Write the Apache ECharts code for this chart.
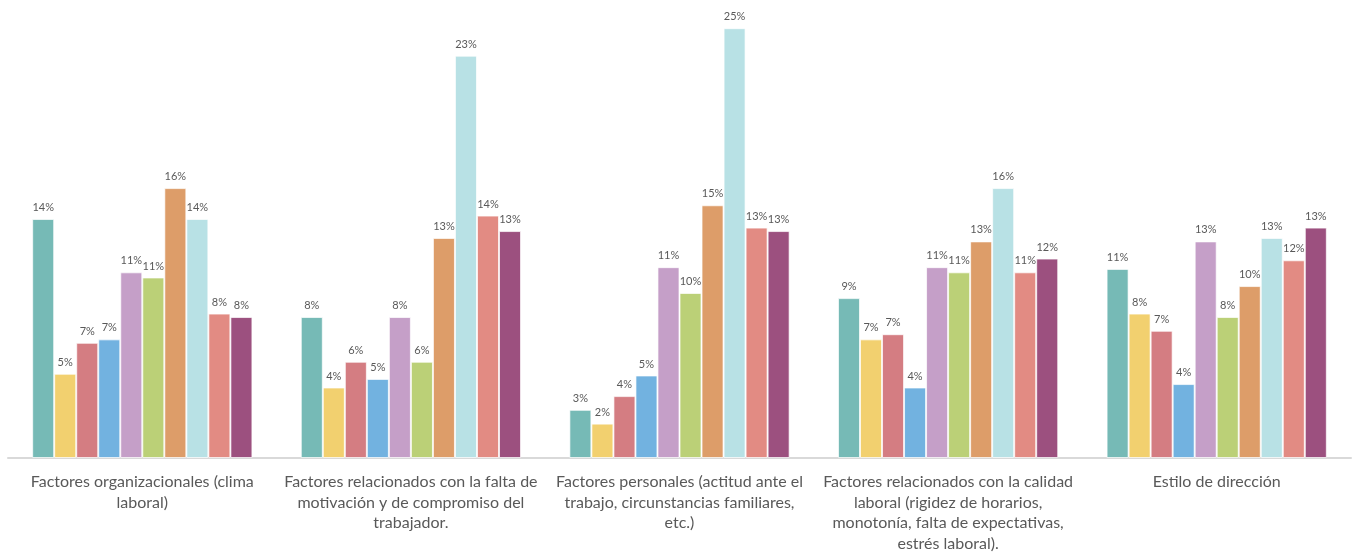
<!DOCTYPE html>
<html>
<head>
<meta charset="utf-8">
<script src="https://cdn.jsdelivr.net/npm/echarts@6/dist/echarts.min.js"></script>
<style>
  html, body { margin: 0; padding: 0; background: #fff; }
  #chart { width: 1355px; height: 554px; }
</style>
</head>
<body>
<div id="chart"></div>
<script>
// categorias (saltos de linea como en la imagen)
var categories = [
    'Factores organizacionales (clima\nlaboral)',
    'Factores relacionados con la falta de\nmotivación y de compromiso del\ntrabajador.',
    'Factores personales (actitud ante el\ntrabajo, circunstancias familiares,\netc.)',
    'Factores relacionados con la calidad\nlaboral (rigidez de horarios,\nmonotonía, falta de expectativas,\nestrés laboral).',
    'Estilo de dirección'
];

var serie1 = [13.9, 8.2, 2.8, 9.3, 11.0];
var serie2 = [4.9, 4.1, 2.0, 6.9, 8.4];
var serie3 = [6.7, 5.6, 3.6, 7.2, 7.4];
var serie4 = [6.9, 4.6, 4.8, 4.1, 4.3];
var serie5 = [10.8, 8.2, 11.1, 11.1, 12.6];
var serie6 = [10.5, 5.6, 9.6, 10.8, 8.2];
var serie7 = [15.7, 12.8, 14.7, 12.6, 10.0];
var serie8 = [13.9, 23.4, 25.0, 15.7, 12.8];
var serie9 = [8.4, 14.1, 13.4, 10.8, 11.5];
var serie10 = [8.2, 13.2, 13.2, 11.6, 13.4];

var seriesNames = ['Serie 1', 'Serie 2', 'Serie 3', 'Serie 4', 'Serie 5',
                   'Serie 6', 'Serie 7', 'Serie 8', 'Serie 9', 'Serie 10'];
var seriesData = [serie1, serie2, serie3, serie4, serie5, serie6, serie7, serie8, serie9, serie10];
var colors = ['#76BAB6', '#F2D06F', '#D47D82', '#72B2E0', '#C59FC8',
              '#BBD077', '#DD9D69', '#B8E1E5', '#E28B83', '#9C507F'];

var font = 'Lato';

var series = seriesData.map(function (d, i) {
    return {
        name: seriesNames[i],
        type: 'bar',
        data: d,
        barGap: '0%',
        barCategoryGap: '18%',
        itemStyle: {
            color: colors[i],
            borderColor: 'rgba(255,255,255,0.7)',
            borderWidth: 1
        },
        label: {
            show: true,
            position: 'top',
            distance: 6,
            color: '#595959',
            fontFamily: font,
            fontSize: 11,
            formatter: function (p) { return Math.round(p.value) + '%'; }
        }
    };
});

var chart = echarts.init(document.getElementById('chart'));
chart.setOption({
    animation: false,
    color: colors,
    grid: { left: 8, right: 4, top: 11, bottom: 95 },
    xAxis: {
        type: 'category',
        data: categories,
        axisLine: { lineStyle: { color: '#D9D9D9', width: 2 } },
        axisTick: { show: false },
        axisLabel: {
            color: '#595959',
            fontFamily: font,
            fontSize: 16,
            lineHeight: 20.5,
            margin: 14,
            interval: 0
        }
    },
    yAxis: {
        type: 'value',
        min: 0,
        max: 26,
        show: false,
        splitLine: { show: false }
    },
    series: series
});
</script>
</body>
</html>
